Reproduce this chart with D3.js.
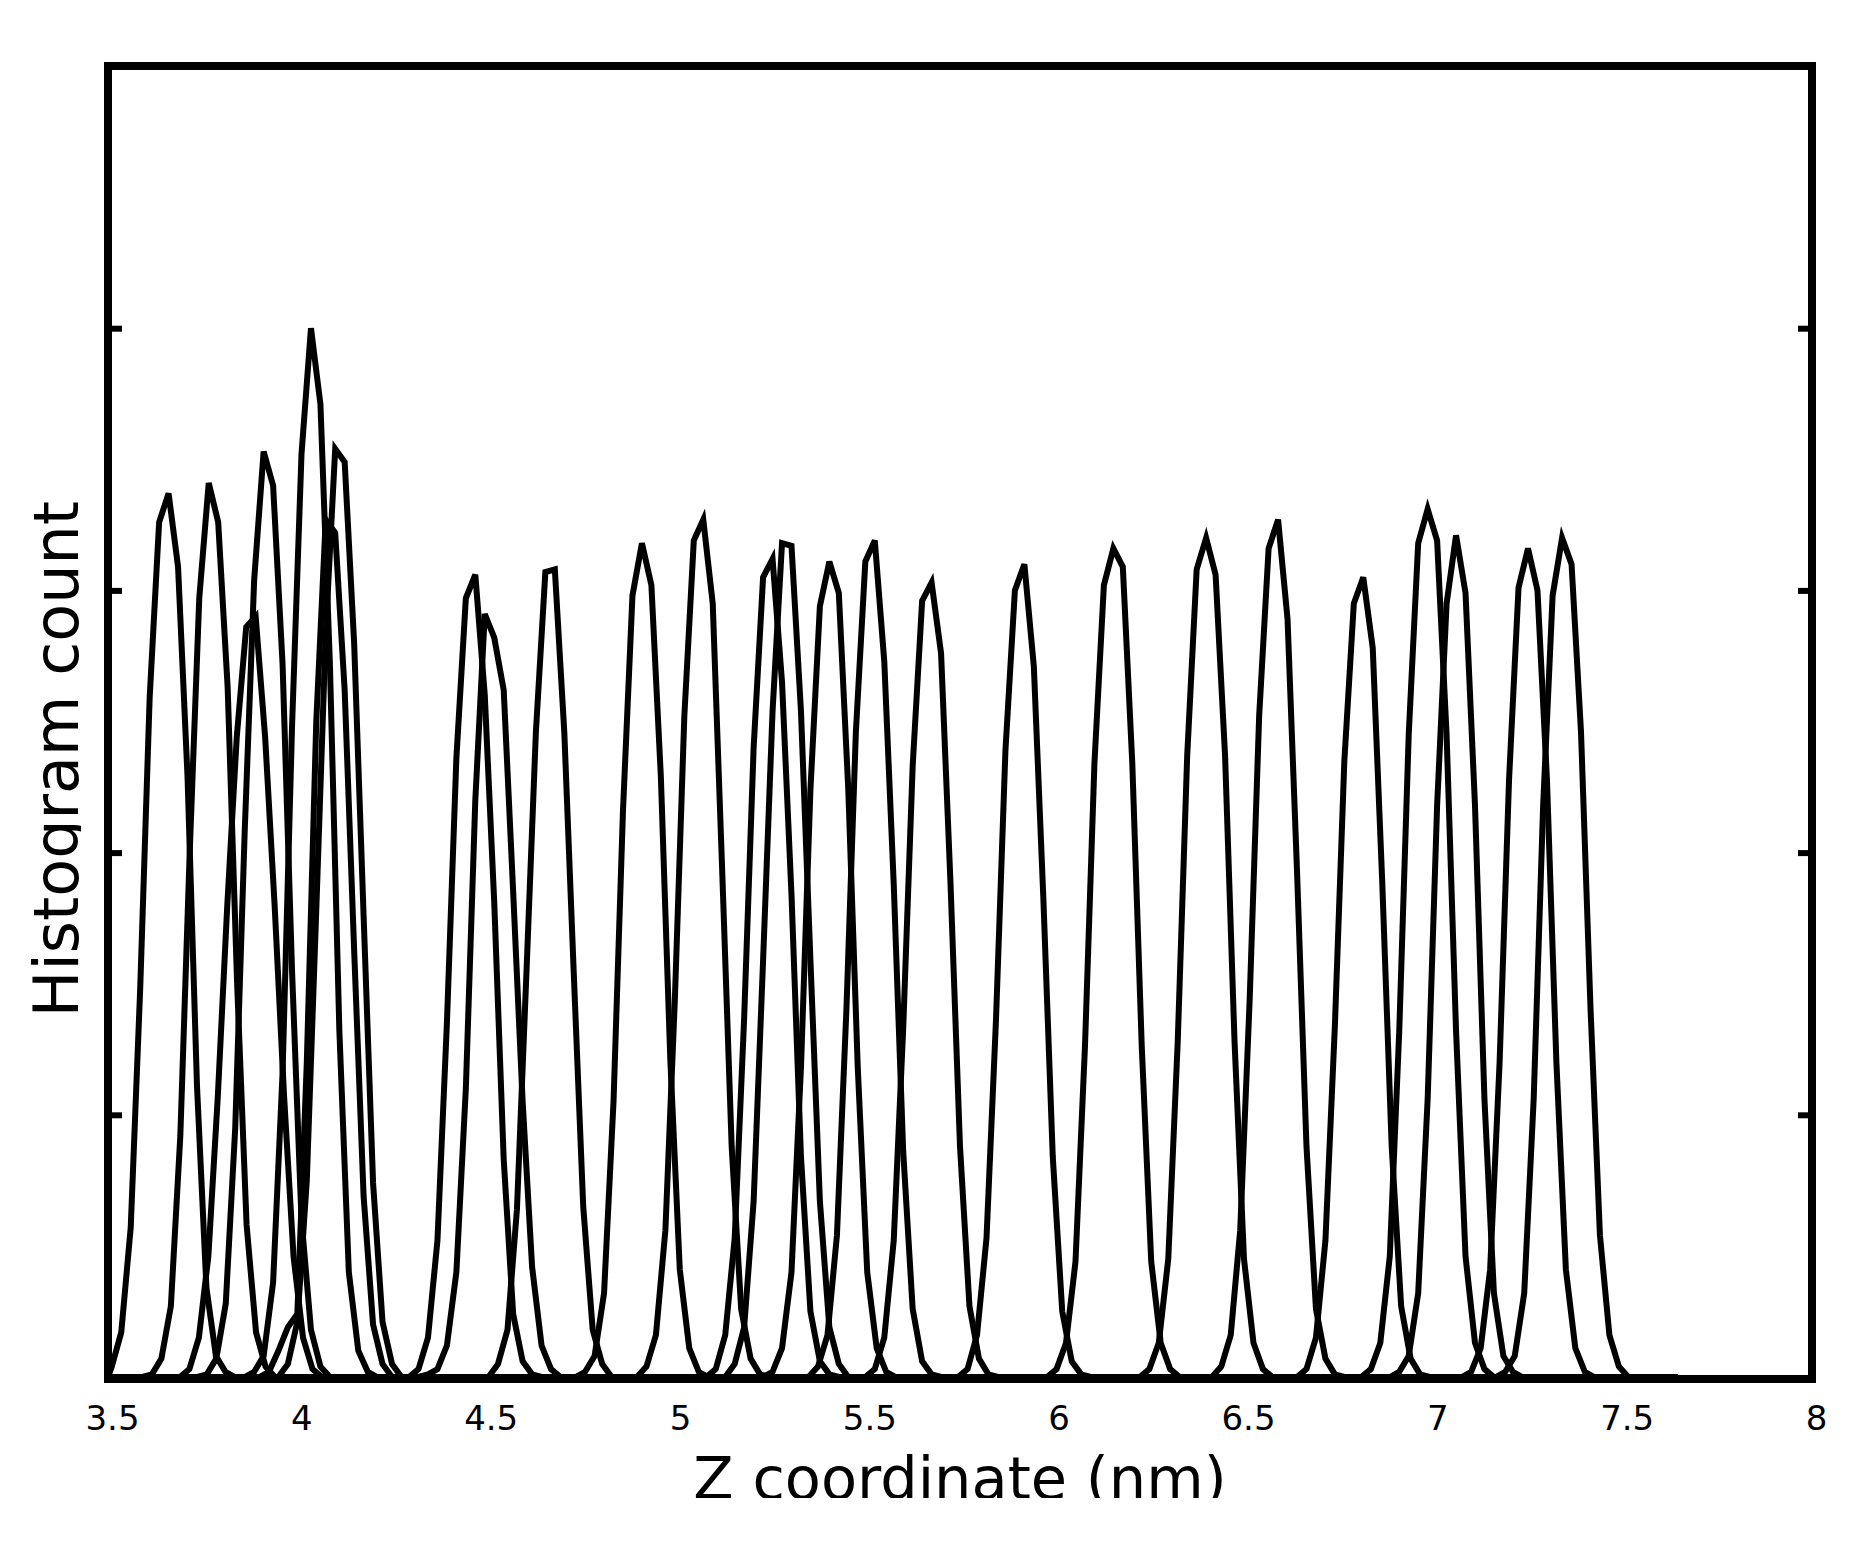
<!DOCTYPE html>
<html>
    <head>
        <meta charset="utf-8" />
        <title>Z coordinate histograms</title>
        <script src="https://d3js.org/d3.v7.min.js"></script>
        <style>
            body {
                margin: 0;
                background: white;
            }
            text {
                font-family: 'DejaVu Sans', sans-serif;
                fill: black;
            }
            .peak {
                fill: none;
                stroke: black;
                stroke-width: 6px;
            }
        </style>
    </head>
    <body>
        <script>
            // histogram bins, nm
            const binWidth = 0.025;
            const zRange = [3.5, 7.645];
            const xTicks = [3.5, 4, 4.5, 5, 5.5, 6, 6.5, 7, 7.5, 8];
            const yTicks = [1, 2, 3, 4];

            // first bin of each histogram (nm)
            const peakStarts = [3.485, 3.591, 3.69, 3.736, 3.861, 3.95, 3.9, 4.295, 4.32, 4.505, 4.735, 4.897, 5.08,
                5.13, 5.23, 5.35, 5.5, 5.745, 5.98, 6.225, 6.415, 6.64, 6.81, 6.885, 7.075, 7.165];

            // counts per bin
            const p01 = [0, 0.04, 0.17, 0.57, 1.48, 2.59, 3.26, 3.37, 3.09, 2.29, 1.11, 0.34, 0.08, 0.02, 0];
            const p02 = [0, 0.01, 0.07, 0.27, 0.92, 2.01, 2.97, 3.41, 3.26, 2.63, 1.5, 0.58, 0.17, 0.04, 0];
            const p03 = [0, 0.03, 0.15, 0.46, 1.07, 1.8, 2.44, 2.86, 2.9, 2.44, 1.8, 1.07, 0.46, 0.15, 0.03, 0];
            const p04 = [0, 0.01, 0.07, 0.28, 0.95, 2.08, 3.04, 3.53, 3.4, 2.72, 1.55, 0.6, 0.18, 0.04, 0];
            const p05 = [0, 0.02, 0.08, 0.36, 1.16, 2.48, 3.52, 4.0, 3.71, 2.72, 1.32, 0.4, 0.1, 0.02, 0];
            const p06 = [0, 0.05, 0.21, 0.75, 1.78, 2.84, 3.54, 3.49, 2.8, 1.76, 0.74, 0.21, 0.05, 0];
            const p07 = [0, 0.02, 0.1, 0.19, 0.24, 1.2, 2.5, 3.27, 3.22, 2.62, 1.63, 0.69, 0.2, 0.05, 0];
            const p08 = [0, 0.03, 0.15, 0.52, 1.35, 2.36, 2.97, 3.06, 2.6, 1.81, 0.83, 0.24, 0.06, 0.01, 0];
            const p09 = [0, 0.01, 0.03, 0.12, 0.4, 1.1, 2.2, 2.91, 2.82, 2.62, 1.85, 1.05, 0.42, 0.12, 0.03, 0];
            const p10 = [0, 0.05, 0.18, 0.64, 1.54, 2.46, 3.07, 3.08, 2.46, 1.54, 0.65, 0.18, 0.05, 0];
            const p11 = [0, 0.02, 0.08, 0.32, 1.05, 2.16, 2.98, 3.18, 3.02, 2.29, 1.21, 0.41, 0.11, 0.02, 0];
            const p12 = [0, 0.04, 0.16, 0.56, 1.44, 2.52, 3.19, 3.27, 2.95, 1.93, 0.88, 0.26, 0.07, 0.01, 0];
            const p13 = [0, 0.03, 0.16, 0.53, 1.37, 2.4, 3.05, 3.12, 2.65, 1.84, 0.84, 0.25, 0.06, 0.01, 0];
            const p14 = [0, 0.05, 0.19, 0.67, 1.59, 2.54, 3.18, 3.17, 2.54, 1.59, 0.67, 0.19, 0.05, 0];
            const p15 = [0, 0.02, 0.11, 0.4, 1.18, 2.24, 2.94, 3.11, 2.99, 2.24, 1.18, 0.4, 0.11, 0.02, 0];
            const p16 = [0, 0.04, 0.16, 0.54, 1.4, 2.46, 3.11, 3.19, 2.73, 1.88, 0.86, 0.26, 0.06, 0.01, 0];
            const p17 = [0, 0.03, 0.15, 0.52, 1.33, 2.33, 2.96, 3.03, 2.76, 1.88, 0.88, 0.27, 0.07, 0.01, 0];
            const p18 = [0, 0.03, 0.16, 0.53, 1.36, 2.39, 3.0, 3.1, 2.71, 1.83, 0.84, 0.25, 0.06, 0.01, 0];
            const p19 = [0, 0.03, 0.13, 0.44, 1.26, 2.34, 3.02, 3.16, 3.09, 2.34, 1.26, 0.44, 0.13, 0.03, 0];
            const p20 = [0, 0.03, 0.13, 0.45, 1.28, 2.37, 3.08, 3.2, 3.06, 2.37, 1.28, 0.45, 0.13, 0.03, 0];
            const p21 = [0, 0.04, 0.16, 0.56, 1.44, 2.52, 3.16, 3.27, 2.89, 1.93, 0.88, 0.26, 0.07, 0.01, 0];
            const p22 = [0, 0.03, 0.15, 0.52, 1.34, 2.35, 2.95, 3.05, 2.78, 1.89, 0.88, 0.27, 0.07, 0.01, 0];
            const p23 = [0, 0.03, 0.13, 0.46, 1.32, 2.45, 3.18, 3.31, 3.19, 2.45, 1.32, 0.46, 0.13, 0.03, 0];
            const p24 = [0, 0.02, 0.08, 0.32, 1.06, 2.18, 2.95, 3.21, 2.99, 2.18, 1.06, 0.32, 0.08, 0.02, 0];
            const p25 = [0, 0.02, 0.11, 0.41, 1.2, 2.28, 3.01, 3.16, 3.0, 2.28, 1.2, 0.41, 0.11, 0.02, 0];
            const p26 = [0, 0.02, 0.08, 0.32, 1.06, 2.18, 2.98, 3.2, 3.1, 2.46, 1.41, 0.54, 0.16, 0.04, 0];

            const peakCounts = [p01, p02, p03, p04, p05, p06, p07, p08, p09, p10, p11, p12, p13,
                p14, p15, p16, p17, p18, p19, p20, p21, p22, p23, p24, p25, p26];

            const W = 1862,
                H = 1551;
            const frame = { left: 108, right: 1812, top: 66, bottom: 1379 };

            const svg = d3.select('body').append('svg').attr('width', W).attr('height', H);

            const x = d3.scaleLinear().domain([3.5, 8]).range([frame.left, frame.right]);
            const y = d3.scaleLinear().domain([0, 5]).range([frame.bottom - 2, frame.top]);

            // each histogram runs along zero over the whole z range
            const series = peakCounts.map((counts, i) => {
                const pts = counts.map((c, j) => [Math.max(zRange[0], peakStarts[i] + j * binWidth), c]);
                return [[zRange[0], 0], ...pts, [zRange[1], 0]];
            });

            const line = d3
                .line()
                .x((d) => x(d[0]))
                .y((d) => y(d[1]));

            svg.append('g')
                .selectAll('path')
                .data(series)
                .join('path')
                .attr('class', 'peak')
                .attr('d', line);

            // box
            svg.append('rect')
                .attr('x', frame.left)
                .attr('y', frame.top)
                .attr('width', frame.right - frame.left)
                .attr('height', frame.bottom - frame.top)
                .attr('fill', 'none')
                .attr('stroke', 'black')
                .attr('stroke-width', 8);

            // inward ticks, left and right, no labels
            const yAxisL = d3.axisLeft(y).tickValues(yTicks).tickSize(-14).tickFormat('');
            const yAxisR = d3.axisRight(y).tickValues(yTicks).tickSize(-14).tickFormat('');
            svg.append('g').attr('transform', `translate(${frame.left},0)`).call(yAxisL);
            svg.append('g').attr('transform', `translate(${frame.right},0)`).call(yAxisR);
            svg.selectAll('.tick line').attr('stroke', 'black').attr('stroke-width', 6);
            svg.selectAll('.domain').remove();

            // x tick labels only
            const xAxis = d3.axisBottom(x).tickValues(xTicks).tickSize(0).tickPadding(0).tickFormat(d3.format('~g'));
            const gx = svg.append('g').attr('transform', `translate(4,${frame.bottom})`).call(xAxis);
            gx.select('.domain').remove();
            gx.selectAll('text')
                .attr('dy', null)
                .attr('y', 51)
                .style('font-size', '34px')
                .style('font-family', "'DejaVu Sans', sans-serif");

            // axis titles (clipped at their lower edge as in the original)
            const defs = svg.append('defs');
            defs.append('clipPath').attr('id', 'clipX').append('rect').attr('x', 0).attr('y', 1380).attr('width', W).attr('height', 118);
            defs.append('clipPath').attr('id', 'clipY').append('rect').attr('x', 0).attr('y', 0).attr('width', 81).attr('height', H);

            svg.append('g')
                .attr('clip-path', 'url(#clipX)')
                .append('text')
                .attr('x', (frame.left + frame.right) / 2)
                .attr('y', 1499)
                .attr('text-anchor', 'middle')
                .style('font-size', '59px')
                .text('Z coordinate (nm)');

            svg.append('g')
                .attr('clip-path', 'url(#clipY)')
                .append('text')
                .attr('transform', 'translate(78,759) rotate(-90)')
                .attr('text-anchor', 'middle')
                .style('font-size', '62px')
                .text('Histogram count');
        </script>
    </body>
</html>
